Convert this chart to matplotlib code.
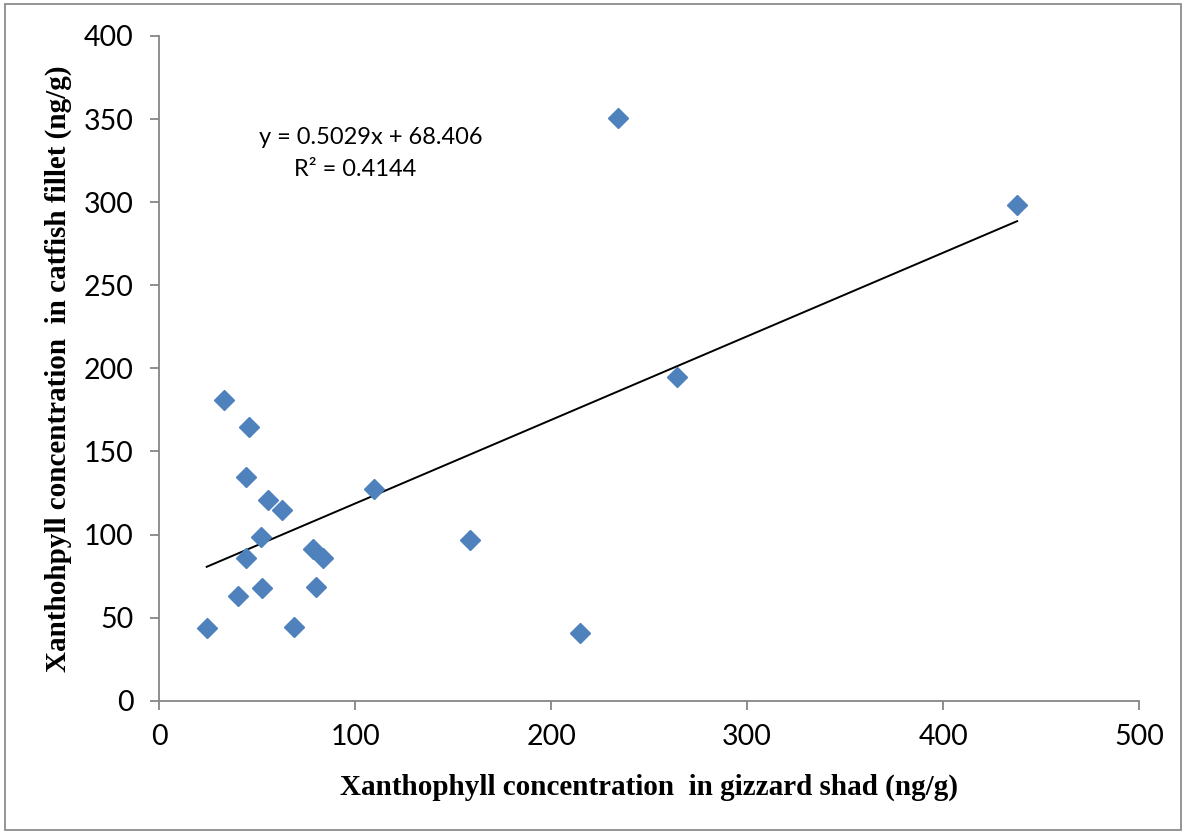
import matplotlib
matplotlib.use("Agg")
import matplotlib.pyplot as plt
from matplotlib.patches import Rectangle
import numpy as np

# Xanthophyll concentrations (ng/g)
shad = [33.0, 45.9, 44.2, 55.6, 62.4, 51.9, 44.2, 78.6, 83.7, 40.0,
        52.6, 79.8, 24.2, 68.7, 109.7, 234.0, 437.8, 264.1, 158.5, 214.6]
catfish = [180.9, 164.9, 134.8, 120.8, 114.7, 98.7, 86.0, 91.1, 85.7, 63.2,
           67.6, 68.2, 43.5, 44.1, 127.6, 350.4, 298.2, 194.6, 96.7, 40.7]

slope = 0.5029
intercept = 68.406
r_squared = 0.4144

x_ticks = [0, 100, 200, 300, 400, 500]
y_ticks = [0, 50, 100, 150, 200, 250, 300, 350, 400]

fig = plt.figure(figsize=(11.86, 8.33), dpi=100)
ax = fig.add_axes([0.1343, 0.1588, 0.8261, 0.7980])

ax.plot(shad, catfish, linestyle="none", marker="D", markersize=10.2,
        color="#4F81BD", markeredgecolor="#4F81BD", zorder=3)

xs = np.array([min(shad), max(shad)])
ax.plot(xs, slope * xs + intercept, color="black", linewidth=1.4, zorder=2)

ax.set_xlim(0, 500)
ax.set_ylim(0, 400)
ax.set_xticks(x_ticks)
ax.set_yticks(y_ticks)

tick_font = "Lato"
for lab in ax.get_xticklabels() + ax.get_yticklabels():
    lab.set_fontfamily(tick_font)
    lab.set_fontsize(20.5)

for side in ("top", "right"):
    ax.spines[side].set_visible(False)
for side in ("left", "bottom"):
    ax.spines[side].set_color("#868686")
    ax.spines[side].set_linewidth(1.3)
ax.tick_params(axis="both", direction="out", length=6.5, width=1.3,
               color="#868686", labelcolor="black")
ax.tick_params(axis="x", pad=10)
ax.tick_params(axis="y", pad=12)

label_font = dict(family="Liberation Serif", weight="bold", size=21)
ax.set_xlabel("Xanthophyll concentration  in gizzard shad (ng/g)",
              fontdict=label_font, va="center")
ax.set_ylabel("Xanthohpyll concentration  in catfish fillet (ng/g)",
              fontdict=label_font, va="center")
ax.xaxis.set_label_coords(0.5, -0.130)
ax.yaxis.set_label_coords(-0.103, 0.5)

ax.text(0.216, 0.848, f"y = {slope}x + {intercept}", transform=ax.transAxes,
        ha="center", va="center", fontsize=17, family="Lato")
ax.text(0.200, 0.799, f"R² = {r_squared}", transform=ax.transAxes,
        ha="center", va="center", fontsize=17, family="Lato")

fig.patches.append(Rectangle((0.004, 0.004), 0.992, 0.991,
                             transform=fig.transFigure, fill=False,
                             edgecolor="#8C8C8C", linewidth=1.3))

fig.savefig("out.png", dpi=100)
